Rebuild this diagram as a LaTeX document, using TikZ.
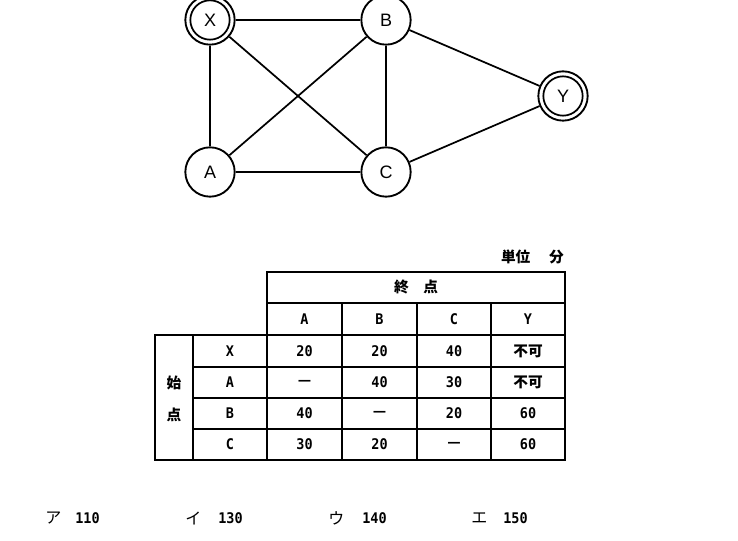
\documentclass[tikz,border=0pt]{standalone}
\usepackage{fontspec}
\setmainfont{Liberation Sans}
\newfontfamily\jp{Noto Sans CJK JP}
\newfontfamily\mono{DejaVu Sans Mono}[FakeStretch=0.92]
\begin{document}
\begin{tikzpicture}[x=0.75pt,y=-0.75pt,
  vtx/.style={circle,draw,line width=1.4pt,minimum size=37pt,inner sep=0pt,font=\fontsize{13.5}{15}\selectfont},
  inr/.style={circle,draw,line width=1.3pt,minimum size=29.5pt,inner sep=0pt},
  edge/.style={line width=1.3pt},
  outerln/.style={line width=2pt},
  innerln/.style={line width=1.45pt},
  tb/.style={font=\mono\bfseries\fontsize{11}{13}\selectfont,inner sep=0pt},
  jt/.style={font=\jp\bfseries\fontsize{11}{13}\selectfont,inner sep=0pt},
  kana/.style={font=\jp\fontsize{12}{14}\selectfont,inner sep=0pt}]
\useasboundingbox (0,0) rectangle (738,541);

% graph
\node[vtx] (X) at (210,20) {X};
\node[inr] (Xi) at (210,20) {};
\node[vtx] (B) at (386,20) {B};
\node[vtx] (A) at (210,172) {A};
\node[vtx] (C) at (386,172) {C};
\node[vtx] (Y) at (563,96) {Y};
\node[inr] (Yi) at (563,96) {};
\draw[edge] (X) -- (B);
\draw[edge] (X) -- (A);
\draw[edge] (X) -- (C);
\draw[edge] (A) -- (B);
\draw[edge] (A) -- (C);
\draw[edge] (B) -- (C);
\draw[edge] (B) -- (Y);
\draw[edge] (C) -- (Y);

% table lines
\draw[innerln] (267,303) -- (565,303);
\draw[innerln] (267,335) -- (565,335);
\foreach \yy in {367,398,429} \draw[innerln] (193,\yy) -- (565,\yy);
\draw[innerln] (193,335) -- (193,460);
\draw[innerln] (267,335) -- (267,460);
\foreach \xx in {342,417,491} \draw[innerln] (\xx,303) -- (\xx,460);
\draw[outerln] (267,272) -- (565,272) -- (565,460) -- (155,460) -- (155,335) -- (267,335) -- cycle;

% unit
\node[jt,anchor=east] (unit) at (564,257) {単位\hspace{14pt}分};

% header
\node[jt] (hdr) at (416,287.5) {終　点};
\node[tb] (hA) at (304.5,319) {A};
\node[tb] (hB) at (379.5,319) {B};
\node[tb] (hC) at (454,319) {C};
\node[tb] (hY) at (528,319) {Y};

% row header
\node[jt] (s1) at (174,383) {始};
\node[jt] (s2) at (174,415) {点};
\node[tb] (rX) at (230,351) {X};
\node[tb] (rA) at (230,382.5) {A};
\node[tb] (rB) at (230,413.5) {B};
\node[tb] (rC) at (230,444.5) {C};

% cells
\node[tb] (xa) at (304.5,351) {20};
\node[tb] (xb) at (379.5,351) {20};
\node[tb] (xc) at (454,351) {40};
\node[jt] (xy) at (528,351) {不可};
\node[jt] (aa) at (304.5,382.5) {—};
\node[tb] (ab) at (379.5,382.5) {40};
\node[tb] (ac) at (454,382.5) {30};
\node[jt] (ay) at (528,382.5) {不可};
\node[tb] (ba) at (304.5,413.5) {40};
\node[jt] (bb) at (379.5,413.5) {—};
\node[tb] (bc) at (454,413.5) {20};
\node[tb] (by) at (528,413.5) {60};
\node[tb] (ca) at (304.5,444.5) {30};
\node[tb] (cb) at (379.5,444.5) {20};
\node[jt] (cc) at (454,444.5) {—};
\node[tb] (cy) at (528,444.5) {60};

% answers
\node[kana,anchor=west] (k1) at (45,518) {ア};
\node[tb,anchor=west] (n1) at (75,518) {110};
\node[kana,anchor=west] (k2) at (185,518) {イ};
\node[tb,anchor=west] (n2) at (218,518) {130};
\node[kana,anchor=west] (k3) at (328,518) {ウ};
\node[tb,anchor=west] (n3) at (362,518) {140};
\node[kana,anchor=west] (k4) at (471,518) {エ};
\node[tb,anchor=west] (n4) at (503,518) {150};
\end{tikzpicture}
\end{document}
